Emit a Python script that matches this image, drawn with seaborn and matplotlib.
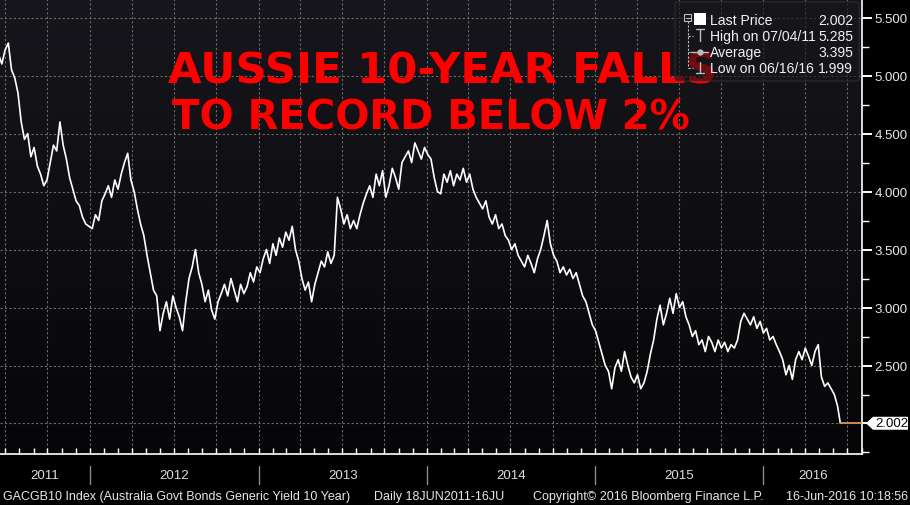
import matplotlib
matplotlib.use("Agg")
import matplotlib.pyplot as plt
import matplotlib.dates as mdates
import matplotlib.ticker as mticker
from matplotlib.lines import Line2D
from matplotlib.patches import Rectangle, FancyBboxPatch, Polygon
from matplotlib.colors import LinearSegmentedColormap
import numpy as np
import pandas as pd
import seaborn as sns

W, H = 910, 506

# weekly (Friday) closes, % yield
yield_2011 = [5.18, 5.10, 5.22, 5.28, 5.05, 4.98, 4.85, 4.60, 4.45, 4.50,
              4.30, 4.38, 4.22, 4.15, 4.05, 4.10, 4.25, 4.40, 4.35, 4.60,
              4.40, 4.28, 4.12, 4.02, 3.92, 3.88, 3.78, 3.72, 3.70]
yield_2012 = [3.68, 3.80, 3.75, 3.92, 3.98, 4.05, 3.95, 4.10, 4.02, 4.15,
              4.25, 4.33, 4.10, 4.00, 3.85, 3.72, 3.62, 3.45, 3.30, 3.15,
              3.10, 2.80, 2.95, 3.05, 2.90, 3.10, 3.00, 2.92, 2.80, 3.05,
              3.25, 3.35, 3.50, 3.30, 3.20, 3.05, 3.15, 2.98, 2.90, 3.05,
              3.12, 3.20, 3.10, 3.25, 3.15, 3.05, 3.20, 3.12, 3.18, 3.30,
              3.22, 3.35]
yield_2013 = [3.30, 3.42, 3.50, 3.38, 3.55, 3.45, 3.60, 3.52, 3.65, 3.58,
              3.70, 3.50, 3.40, 3.25, 3.15, 3.22, 3.05, 3.20, 3.30, 3.40,
              3.35, 3.48, 3.38, 3.45, 3.95, 3.85, 3.72, 3.80, 3.68, 3.75,
              3.68, 3.80, 3.90, 3.98, 4.05, 3.95, 4.15, 4.05, 4.18, 3.95,
              4.05, 4.20, 4.12, 4.02, 4.25, 4.30, 4.35, 4.25, 4.42, 4.35,
              4.28, 4.38]
yield_2014 = [4.32, 4.28, 4.12, 4.00, 3.98, 4.15, 4.08, 4.18, 4.05, 4.15,
              4.10, 4.20, 4.08, 4.15, 4.02, 3.95, 3.90, 3.85, 3.92, 3.78,
              3.72, 3.80, 3.68, 3.72, 3.62, 3.58, 3.50, 3.55, 3.45, 3.40,
              3.35, 3.45, 3.38, 3.30, 3.42, 3.50, 3.62, 3.75, 3.55, 3.45,
              3.40, 3.30, 3.35, 3.28, 3.33, 3.25, 3.30, 3.20, 3.10, 3.05,
              2.95, 2.85]
yield_2015 = [2.80, 2.70, 2.60, 2.50, 2.45, 2.30, 2.48, 2.55, 2.45, 2.62,
              2.50, 2.40, 2.35, 2.42, 2.30, 2.35, 2.45, 2.60, 2.72, 2.90,
              3.02, 2.85, 2.95, 3.08, 2.95, 3.12, 3.00, 3.05, 2.92, 2.85,
              2.75, 2.80, 2.68, 2.72, 2.62, 2.75, 2.70, 2.62, 2.72, 2.65,
              2.70, 2.62, 2.68, 2.65, 2.72, 2.88, 2.95, 2.90, 2.85, 2.92,
              2.82, 2.88]
yield_2016 = [2.78, 2.82, 2.72, 2.75, 2.68, 2.62, 2.55, 2.42, 2.50, 2.38,
              2.55, 2.62, 2.55, 2.65, 2.58, 2.50, 2.62, 2.68, 2.40, 2.32,
              2.35, 2.30, 2.25, 2.15]
last_date = "2016-06-16"
last_price = 2.002

legend_labels = ["Last Price", "High on 07/04/11", "Average", "Low on 06/16/16"]
legend_values = ["2.002", "5.285", "3.395", "1.999"]
years = [2011, 2012, 2013, 2014, 2015, 2016]
title_lines = ["AUSSIE 10-YEAR FALLS", "TO RECORD BELOW 2%"]
footer_parts = ["GACGB10 Index (Australia Govt Bonds Generic Yield 10 Year)",
                "Daily 18JUN2011-16JU",
                "Copyright\u00a9 2016 Bloomberg Finance L.P.",
                "16-Jun-2016 10:18:56"]

weekly = yield_2011 + yield_2012 + yield_2013 + yield_2014 + yield_2015 + yield_2016
dates = list(pd.date_range("2011-06-17", periods=len(weekly), freq="7D")) + [pd.Timestamp(last_date)]
df = pd.DataFrame({"date": dates, "yield": weekly + [last_price]})

sns.set_theme(style="dark")
plt.rcParams["font.family"] = ["Liberation Sans", "DejaVu Sans"]

fig = plt.figure(figsize=(W / 100, H / 100), dpi=100, facecolor="black")
ax = fig.add_axes([0, 1 - 455 / H, 862 / W, 455 / H])


def px(x, y):
    return x / W, 1 - y / H


def fit_width(txt, target):
    r = fig.canvas.get_renderer()
    w = txt.get_window_extent(r).width
    txt.set_fontsize(txt.get_fontsize() * target / w)
    return txt.get_fontsize()


sns.lineplot(data=df, x="date", y="yield", ax=ax, color="white", lw=1.2, zorder=3)

# bloomberg-ish dark gradient
bg = LinearSegmentedColormap.from_list("bg", ["#17161c", "#060608"])
ax.imshow(np.linspace(0, 1, 256).reshape(-1, 1), extent=(0, 1, 0, 1),
          transform=ax.transAxes, cmap=bg, aspect="auto", zorder=0)

x0, x1 = pd.Timestamp("2011-06-20"), pd.Timestamp("2016-08-02")
ax.set_xlim(x0, x1)
ax.set_ylim(1.737, 5.66)
ax.hlines(last_price, pd.Timestamp(last_date), x1, color="#e0914a", lw=1.3, zorder=3)

ax.set_axisbelow(True)
ax.grid(True, which="major", color="#6a6a6a", ls=(0, (2, 2)), lw=0.8)
ax.set_xlabel("")
ax.set_ylabel("")

ax.yaxis.tick_right()
ax.yaxis.set_major_locator(mticker.MultipleLocator(0.5))
ax.yaxis.set_minor_locator(mticker.MultipleLocator(0.25))
ax.yaxis.set_major_formatter(mticker.FuncFormatter(
    lambda v, p: "" if abs(v - 2.0) < 1e-6 else f"{v:.3f}"))
ax.tick_params(axis="y", which="major", right=True, left=False, direction="out",
               length=7, width=1.4, color="white", labelcolor="#e8e8e8",
               labelsize=9.5, pad=2)
ax.tick_params(axis="y", which="minor", right=True, left=False, direction="out",
               length=5, width=1, color="white")

ax.xaxis.set_major_locator(mdates.MonthLocator(bymonth=[1, 4, 7, 10]))
ax.xaxis.set_minor_locator(mdates.MonthLocator())
ax.tick_params(axis="x", which="both", bottom=True, direction="in", length=4,
               width=1, color="white", labelbottom=False)

for s in ["top", "left"]:
    ax.spines[s].set_visible(False)
for s in ["bottom", "right"]:
    ax.spines[s].set_color("white")
    ax.spines[s].set_linewidth(1.2)

# year labels centred in their visible span, with separators
for yr in years:
    start = max(pd.Timestamp(f"{yr}-01-01"), x0)
    end = min(pd.Timestamp(f"{yr + 1}-01-01"), x1)
    mid = start + (end - start) / 2
    ax.text(mdates.date2num(mid), -0.046, str(yr), transform=ax.get_xaxis_transform(),
            ha="center", va="center", color="#dddddd", fontsize=9.5, clip_on=False)
    if yr > years[0]:
        d = mdates.date2num(pd.Timestamp(f"{yr}-01-01"))
        ax.plot([d, d], [-0.026, -0.066], transform=ax.get_xaxis_transform(),
                color="#8a8a8a", lw=1, clip_on=False)

# last price tag
lp_tag = Polygon([(866 / 862, last_price), (873 / 862, last_price + 0.056),
                  (908 / 862, last_price + 0.056), (908 / 862, last_price - 0.056),
                  (873 / 862, last_price - 0.056)],
                 closed=True, transform=ax.get_yaxis_transform(), fc="white",
                 ec="none", clip_on=False, zorder=6)
ax.add_patch(lp_tag)
ax.text(875 / 862, last_price, legend_values[0], transform=ax.get_yaxis_transform(),
        ha="left", va="center", color="black", fontsize=9.5, clip_on=False, zorder=7)

# headline
t1 = fig.text(*px(168, 84), title_lines[0], color="#ff0000", fontweight="bold",
              family="DejaVu Sans", fontsize=30, va="baseline", zorder=4)
fit_width(t1, 549)
t2 = fig.text(*px(172, 129), title_lines[1], color="#ff0000", fontweight="bold",
              family="DejaVu Sans", fontsize=30, va="baseline", zorder=4)
fit_width(t2, 518)

# legend box
box = FancyBboxPatch(px(675, 82), 184 / W, 79 / H, transform=fig.transFigure,
                     boxstyle="round,pad=0,rounding_size=0.004", fc="#15151a",
                     ec="#3a3a3a", lw=0.8, alpha=0.62, zorder=5)
fig.add_artist(box)
rows = [21, 37, 53, 69]
lab_txt = []
for lab, val, ry in zip(legend_labels, legend_values, rows):
    lab_txt.append(fig.text(*px(710, ry), lab, color="#f0f0f0", fontsize=10,
                            va="center", ha="left", zorder=6))
lfs = fit_width(lab_txt[1], 106)
for t in lab_txt:
    t.set_fontsize(lfs)
for val, ry in zip(legend_values, rows):
    fig.text(*px(853, ry), val, color="#f0f0f0", fontsize=lfs, va="center",
             ha="right", zorder=6)

icon = "#bdbdbd"


def fline(xs, ys, **kw):
    pts = [px(x, y) for x, y in zip(xs, ys)]
    fig.add_artist(Line2D([p[0] for p in pts], [p[1] for p in pts],
                          transform=fig.transFigure, zorder=6, **kw))


fig.add_artist(Rectangle(px(684, 22), 7 / W, 7 / H, transform=fig.transFigure,
                         fc="none", ec=icon, lw=0.8, zorder=6))
fline([685.5, 689.5], [18.5, 18.5], color=icon, lw=0.8)
fig.add_artist(Rectangle(px(694, 26), 12 / W, 12 / H, transform=fig.transFigure,
                         fc="white", ec="none", zorder=6))
fline([687.5, 687.5], [22, 69], color=icon, lw=0.8, ls=(0, (2, 1.5)))
for ry in rows[1:]:
    fline([687.5, 693], [ry, ry], color=icon, lw=0.8, ls=(0, (2, 1.5)))
fline([696, 704], [30, 30], color=icon, lw=1)
fline([700, 700], [30, 42], color=icon, lw=1)
fline([691, 708], [53, 53], color=icon, lw=1)
fline([700], [53], color=icon, marker="o", ms=3.5, lw=0)
fline([700, 700], [63, 74], color=icon, lw=1)
fline([696, 704], [74, 74], color=icon, lw=1)

# footer: one size for all parts, sized from the first
fkw = dict(color="#e6e6e6", va="center", family=["Liberation Sans", "DejaVu Sans"])
f1 = fig.text(*px(3, 497), footer_parts[0], ha="left", fontsize=9, **fkw)
ffs = fit_width(f1, 367) * 0.95
f1.set_fontsize(ffs)
fig.text(*px(374, 497), footer_parts[1], ha="left", fontsize=ffs, **fkw)
fig.text(*px(648, 497), footer_parts[2], ha="center", fontsize=ffs, **fkw)
fig.text(*px(908, 497), footer_parts[3], ha="right", fontsize=ffs, **fkw)

fig.savefig("out.png", dpi=100, facecolor="black")
